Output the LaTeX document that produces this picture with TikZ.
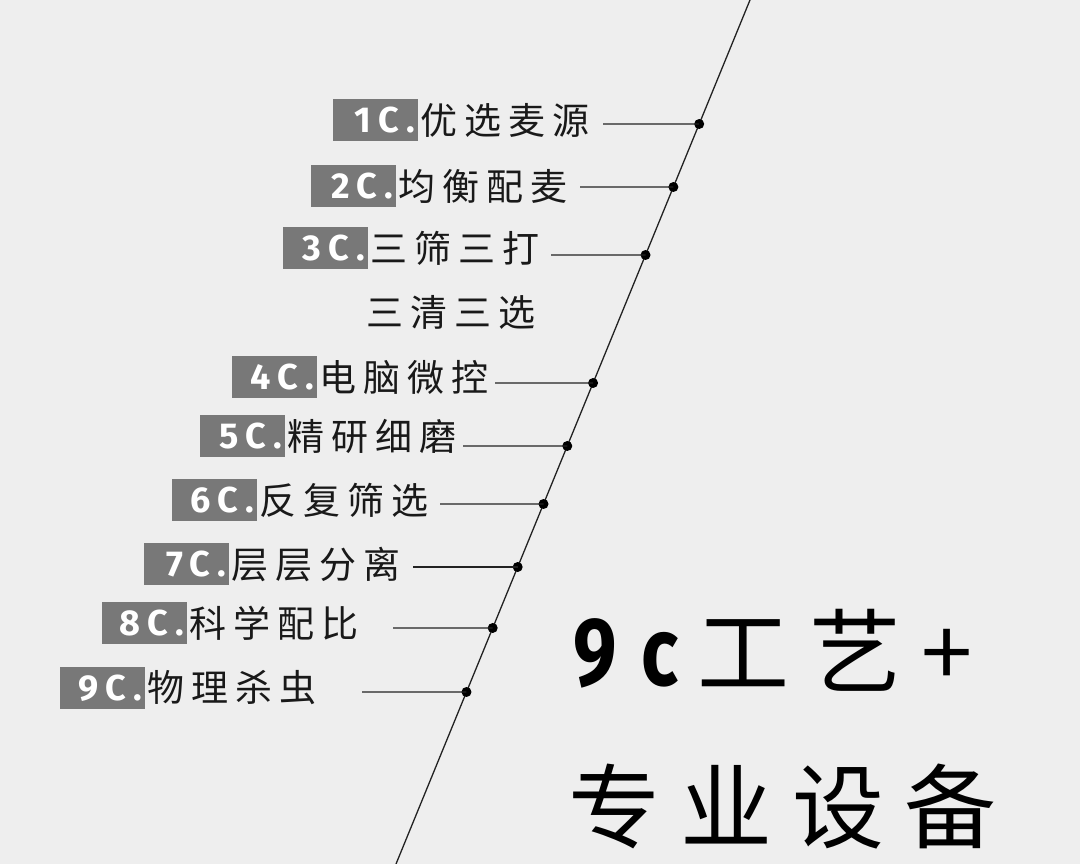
\documentclass[tikz,border=0pt]{standalone}
\usepackage{fontspec}
\newfontfamily\cjk{Noto Sans CJK SC}
\newfontfamily\labelfont[LetterSpace=20]{Fira Sans}
\newfontfamily\tagfont[FakeStretch=0.8,LetterSpace=26]{Fira Sans}

\definecolor{bg}{HTML}{EEEEEE}
\definecolor{boxgray}{HTML}{787878}
\definecolor{linegray}{HTML}{222222}

\tikzset{
  numbox/.style={fill=boxgray, text=white, minimum height=42pt, text width=80pt,
    align=right, inner xsep=2.5pt, inner ysep=0pt,
    font=\labelfont\bfseries\fontsize{36}{36}\selectfont},
  steptext/.style={anchor=west, inner sep=0pt, text=black!90,
    font=\cjk\fontsize{37}{37}\selectfont\addfontfeature{LetterSpace=19}},
  bighead/.style={anchor=west, inner sep=0pt, text=black,
    font=\cjk\fontsize{92}{92}\selectfont\addfontfeature{LetterSpace=22}},
  tick/.style={draw=linegray, line width=1.3pt},
  dot/.style={circle, fill=black, inner sep=0pt, minimum size=10pt}
}

\begin{document}
\begin{tikzpicture}[x=1pt, y=-1pt]
  \path [use as bounding box, fill=bg] (0, 0) rectangle (1080, 864);

  \coordinate (top) at (750, 0);
  \coordinate (bot) at (396, 864);
  \draw [tick] (top) -- (bot);

  \foreach \i/\bx/\by/\ly/\lx/\txt in {
      1/418/120/124/603/优选麦源,
      2/396/186/187/580/均衡配麦,
      3/368/248/255/551/三筛三打,
      4/317/377/383/495/电脑微控,
      5/285/436/446/463/精研细磨,
      6/257/500/504/440/反复筛选,
      7/229/564/567/413/层层分离,
      8/187/623/628/393/科学配比,
      9/145/688/692/362/物理杀虫} {
    \node [numbox, anchor=east] (n\i) at (\bx, \by) {\i C.};
    \node [steptext, xshift=2pt] (t\i) at (n\i.east) {\txt};
    \coordinate (s\i) at (\lx, \ly);
    \path (top) -- (bot) node [dot, pos=\ly/864] (d\i) {};
    \draw [tick] (s\i) -- (d\i.center);
  }

  \node [steptext] (t3b) at (366, 312) {三清三选};

  \node [anchor=base west, inner sep=0pt, text=black,
    font=\tagfont\bfseries\fontsize{97}{97}\selectfont] (nine) at (573, 685) {9c};
  \node [bighead, xshift=1pt] (craft) at (696, 650) {工艺+};
  \node [bighead] (equip) at (568, 807) {专业设备};
\end{tikzpicture}
\end{document}
